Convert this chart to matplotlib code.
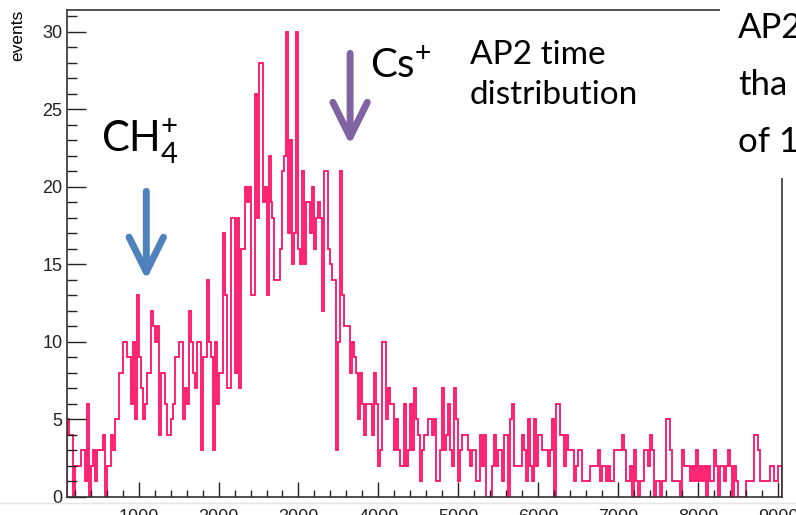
import numpy as np
import matplotlib
matplotlib.use('Agg')
import matplotlib.pyplot as plt
from matplotlib.ticker import MultipleLocator
from matplotlib.patches import Rectangle
from matplotlib.lines import Line2D

# AP2 time histogram, 25 ns bins starting at 100
t_min = 100
bin_width = 25
counts = [
    5, 4, 4, 0, 2, 2, 2, 3, 3, 1,
    6, 0, 2, 3, 1, 3, 3, 3, 4, 0,
    2, 2, 4, 3, 5, 5, 8, 8, 10, 10,
    9, 9, 6, 10, 5, 13, 9, 7, 5, 6,
    8, 8, 12, 11, 10, 11, 4, 8, 8, 6,
    4, 4, 5, 6, 9, 9, 10, 10, 5, 7,
    6, 12, 10, 8, 7, 10, 10, 3, 9, 9,
    14, 10, 9, 3, 10, 6, 8, 8, 17, 13,
    7, 7, 18, 18, 8, 18, 7, 16, 16, 20,
    19, 20, 13, 13, 26, 18, 28, 28, 19, 20,
    13, 22, 19, 18, 14, 14, 14, 16, 21, 22,
    30, 17, 23, 15, 17, 30, 16, 15, 21, 15,
    19, 19, 17, 20, 16, 18, 19, 18, 12, 21,
    21, 16, 15, 14, 14, 3, 10, 21, 13, 11,
    11, 11, 8, 10, 9, 8, 5, 8, 6, 4,
    6, 6, 6, 4, 8, 6, 2, 3, 10, 10,
    5, 7, 6, 6, 3, 5, 3, 2, 2, 6,
    2, 3, 6, 3, 7, 5, 4, 1, 3, 4,
    4, 5, 5, 4, 5, 1, 1, 3, 7, 3,
    4, 6, 3, 2, 7, 5, 1, 3, 4, 4,
    4, 3, 2, 3, 3, 1, 1, 4, 2, 4,
    0, 0, 0, 2, 4, 2, 3, 3, 1, 4,
    4, 0, 5, 6, 2, 2, 2, 2, 4, 3,
    1, 5, 2, 1, 5, 2, 4, 4, 3, 3,
    3, 2, 3, 5, 0, 6, 6, 4, 4, 2,
    4, 3, 3, 3, 1, 2, 3, 3, 1, 1,
    1, 1, 2, 2, 2, 2, 3, 1, 2, 2,
    1, 2, 1, 1, 3, 3, 3, 3, 4, 3,
    1, 1, 2, 0, 3, 1, 0, 1, 1, 3,
    3, 2, 4, 3, 0, 1, 1, 0, 1, 1,
    5, 5, 3, 1, 1, 1, 1, 0, 3, 2,
    2, 2, 1, 2, 1, 3, 1, 2, 1, 2,
    0, 2, 1, 1, 3, 2, 0, 2, 2, 1,
    2, 3, 2, 0, 2, 1, 0, 0, 0, 0,
    1, 1, 1, 1, 4, 4, 3, 1, 1, 1,
    1, 1, 2, 2, 1, 1, 2, 2,
]

# arrow positions (time, from count, to count)
ch4_arrow = (1096, 19.7, 14.0)
cs_arrow = (3646, 28.6, 22.7)

edges = t_min + bin_width * np.arange(len(counts) + 1)

W, H = 796, 515
plt.rcParams['font.family'] = ['Liberation Sans', 'DejaVu Sans']

def px(x, y):
    return (x / W, 1 - y / H)

fig = plt.figure(figsize=(W / 100, H / 100), dpi=100)
ax = fig.add_axes([66.7 / W, (H - 496.7) / H, (782 - 66.7) / W, (496.7 - 10) / H])

ax.stairs(counts, edges, color='#ff0f66', lw=1.3)

ax.set_xlim(100, 9050)
ax.set_ylim(0, 31.4)
ax.xaxis.set_major_locator(MultipleLocator(1000))
ax.xaxis.set_minor_locator(MultipleLocator(200))
ax.yaxis.set_major_locator(MultipleLocator(5))
ax.yaxis.set_minor_locator(MultipleLocator(1))
ax.tick_params(which='both', direction='in', colors='#222222', labelsize=13, width=1)
ax.tick_params(axis='y', which='major', length=14, pad=3)
ax.tick_params(axis='y', which='minor', length=7)
ax.tick_params(axis='x', which='major', length=11, pad=9)
ax.tick_params(axis='x', which='minor', length=5)
for s in ax.spines.values():
    s.set_color('#333333')
    s.set_linewidth(1.2)

fig.text(*px(18, 10), 'events', rotation=90, ha='center', va='top', fontsize=12.5)

ax.annotate('', xy=(ch4_arrow[0], ch4_arrow[2]), xytext=(ch4_arrow[0], ch4_arrow[1]),
            arrowprops=dict(arrowstyle='->,head_length=1.25,head_width=0.62', color='#4f81bd',
                            lw=5, mutation_scale=20, shrinkA=0, shrinkB=0, capstyle='round'))
ax.annotate('', xy=(cs_arrow[0], cs_arrow[2]), xytext=(cs_arrow[0], cs_arrow[1]),
            arrowprops=dict(arrowstyle='->,head_length=1.25,head_width=0.62', color='#8064a2',
                            lw=5, mutation_scale=20, shrinkA=0, shrinkB=0, capstyle='round'))

# cover of the top right corner (slide text box)
fig.add_artist(Rectangle(px(720, 178), (W - 720) / W, 178 / H, transform=fig.transFigure,
                         facecolor='white', edgecolor='none', zorder=5))

lato = ['Lato', 'DejaVu Sans']
fig.text(*px(101, 153), r'CH$_\mathregular{4}^\mathregular{+}$', fontsize=30, family=lato, va='baseline')
fig.text(*px(370, 78), r'Cs$^\mathregular{+}$', fontsize=29, family=lato, va='baseline')
fig.text(*px(470, 64), 'AP2 time', fontsize=24, family=lato, va='baseline')
fig.text(*px(470, 104), 'distribution', fontsize=24, family=lato, va='baseline')
fig.text(*px(738, 38), 'AP2', fontsize=25, family=lato, va='baseline', zorder=6)
fig.text(*px(738, 95), 'tha', fontsize=25, family=lato, va='baseline', zorder=6)
fig.text(*px(738, 152), 'of 1', fontsize=25, family=lato, va='baseline', zorder=6)

fig.add_artist(Line2D([0, 1], [1 - 503 / H] * 2, transform=fig.transFigure, color='#e4e4e4', lw=1))

fig.savefig('out.png', dpi=100)
